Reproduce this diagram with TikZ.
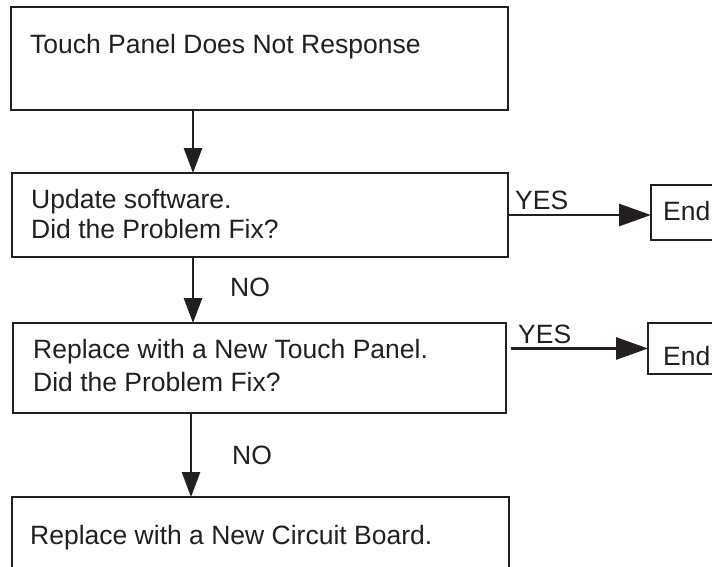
\documentclass[tikz,border=0pt]{standalone}
\usepackage{fontspec}
\setmainfont{Liberation Sans}
\usetikzlibrary{arrows.meta}
\definecolor{ink}{HTML}{231F20}
\tikzset{
  x=1pt, y=-1pt,
  box/.style={draw=ink, line width=2.8pt, rectangle, inner sep=0pt, outer sep=0pt},
  endbox/.style={draw=ink, line width=2.3pt, rectangle, inner sep=0pt, outer sep=0pt},
  txt/.style={anchor=base west, inner sep=0pt, text=ink, font=\fontsize{26.5}{30}\selectfont},
  downarr/.style={draw=ink, line width=2.8pt, -{Triangle[length=25pt, width=18pt]}},
  yesarr/.style={draw=ink, line width=2.8pt, -{Triangle[length=32pt, width=22pt]}},
}
\begin{document}
\begin{tikzpicture}
\useasboundingbox (0,0) rectangle (712,566);
\clip (0,0) rectangle (712,566);

% process boxes
\node[box, minimum width=497pt, minimum height=103pt] (b1) at (259.5,58.5) {};
\node[box, minimum width=496pt, minimum height=84pt] (b2) at (260,215) {};
\node[box, minimum width=493pt, minimum height=90pt] (b3) at (259.5,368) {};
\node[box, minimum width=497pt, minimum height=83pt] (b4) at (260.5,538.5) {};

% terminal boxes
\node[endbox, minimum width=69pt, minimum height=55pt] (e1) at (685.5,212.5) {};
\node[endbox, minimum width=72pt, minimum height=51pt] (e2) at (684,348.5) {};

% box texts
\node[txt] (t1) at (30,53) {Touch Panel Does Not Response};
\node[txt] (t2a) at (31,208) {Update software.};
\node[txt] (t2b) at (31,238) {Did the Problem Fix?};
\node[txt] (t3a) at (33,358) {Replace with a New Touch Panel.};
\node[txt] (t3b) at (33,391) {Did the Problem Fix?};
\node[txt] (t4) at (30,544) {Replace with a New Circuit Board.};
\node[txt] (t5) at (663,220) {End};
\node[txt] (t6) at (663,365) {End};

% branch labels
\node[txt] (no1) at (230,296) {NO};
\node[txt] (no2) at (232,464) {NO};
\node[txt] (yes1) at (515,209) {YES};
\node[txt] (yes2) at (518,343) {YES};

% connectors
\draw[downarr] (b1.south -| 193,0) -- (b2.north -| 193,0);
\draw[downarr] (b2.south -| 193,0) -- (b3.north -| 193,0);
\draw[downarr] (b3.south -| 191,0) -- (b4.north -| 191,0);
\draw[yesarr] (b2.east) -- (b2.east -| e1.west);
\draw[yesarr] ([xshift=5pt]b3.east |- e2.west) -- (e2.west);
\end{tikzpicture}
\end{document}
